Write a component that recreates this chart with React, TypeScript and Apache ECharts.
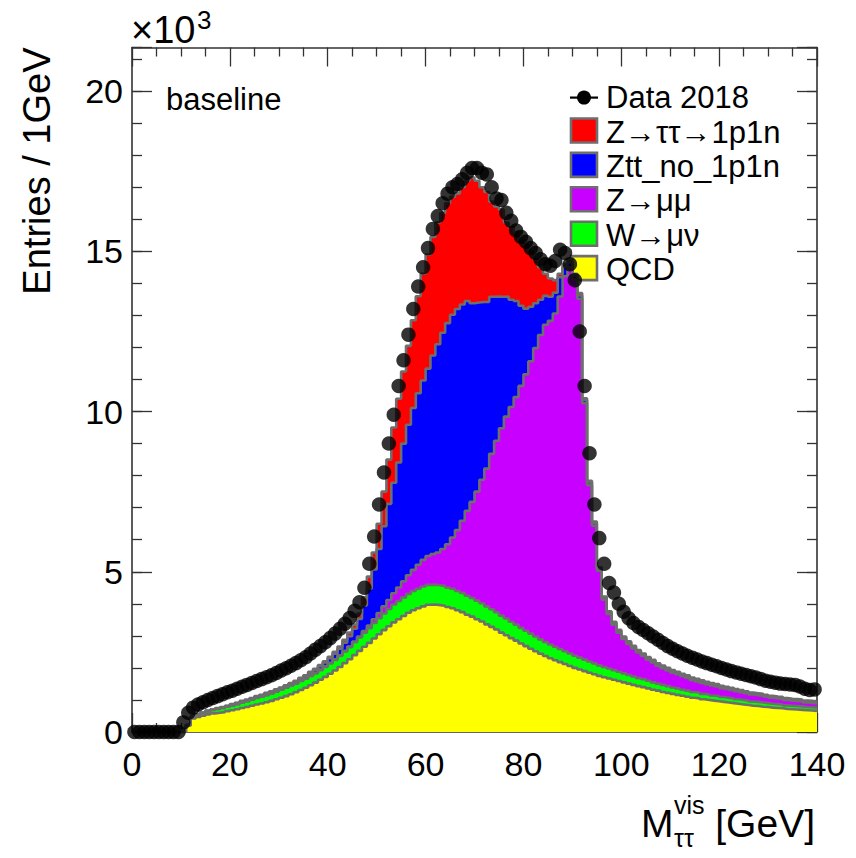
import React, { useEffect, useRef } from "react";
import * as echarts from "echarts";

// ---------------- data (entries in units of 10^3 per 1 GeV bin, bins 0..139) ----------------
const binLow = Array.from({ length: 140 }, (_, i) => i); // bin lower edges, GeV

const dataCounts = [
  0, 0, 0, 0, 0, 0, 0, 0, 0, 0,
  0.3, 0.6, 0.76, 0.86, 0.93, 1.0, 1.06, 1.12, 1.18, 1.24,
  1.29, 1.35, 1.41, 1.47, 1.53, 1.59, 1.65, 1.71, 1.77, 1.84,
  1.92, 1.99, 2.07, 2.15, 2.24, 2.33, 2.45, 2.57, 2.68, 2.8,
  2.93, 3.07, 3.22, 3.38, 3.56, 3.78, 4.05, 4.5, 5.25, 6.1,
  7.1, 8.1, 9.0, 9.9, 10.8, 11.6, 12.4, 13.2, 13.9, 14.5,
  15.1, 15.7, 16.1, 16.5, 16.8, 17.0, 17.1, 17.25, 17.45, 17.6,
  17.6, 17.45, 17.4, 17.0, 16.65, 16.6, 16.2, 15.95, 15.65, 15.45,
  15.3, 15.1, 14.95, 14.75, 14.6, 14.55, 14.7, 15.05, 14.95, 14.6,
  14.1, 12.5, 10.8, 8.7, 7.1, 6.05, 5.25, 4.65, 4.35, 4.0,
  3.75, 3.55, 3.4, 3.28, 3.18, 3.08, 2.98, 2.88, 2.78, 2.68,
  2.6, 2.52, 2.45, 2.38, 2.32, 2.26, 2.2, 2.15, 2.1, 2.05,
  2.0, 1.95, 1.9, 1.86, 1.82, 1.78, 1.74, 1.7, 1.65, 1.6,
  1.57, 1.54, 1.51, 1.5, 1.48, 1.47, 1.42, 1.35, 1.31, 1.33,
];

const qcd = [
  0, 0, 0, 0, 0, 0, 0, 0, 0, 0,
  0, 0.2, 0.42, 0.47, 0.51, 0.55, 0.58, 0.6, 0.62, 0.65,
  0.68, 0.71, 0.75, 0.78, 0.82, 0.86, 0.89, 0.93, 0.97, 1.02,
  1.07, 1.12, 1.18, 1.24, 1.31, 1.38, 1.46, 1.54, 1.63, 1.72,
  1.82, 1.92, 2.03, 2.15, 2.27, 2.4, 2.53, 2.66, 2.78, 2.92,
  3.05, 3.18, 3.3, 3.42, 3.52, 3.62, 3.72, 3.8, 3.86, 3.92,
  3.97, 3.98, 3.96, 3.94, 3.9, 3.86, 3.8, 3.74, 3.66, 3.6,
  3.52, 3.45, 3.36, 3.28, 3.2, 3.1, 3.02, 2.93, 2.85, 2.76,
  2.68, 2.6, 2.52, 2.44, 2.37, 2.3, 2.24, 2.18, 2.12, 2.06,
  2.0, 1.95, 1.9, 1.85, 1.8, 1.75, 1.71, 1.67, 1.63, 1.59,
  1.55, 1.51, 1.47, 1.43, 1.4, 1.36, 1.32, 1.29, 1.25, 1.22,
  1.19, 1.16, 1.13, 1.1, 1.07, 1.05, 1.02, 1.0, 0.98, 0.96,
  0.94, 0.92, 0.9, 0.88, 0.86, 0.84, 0.82, 0.81, 0.79, 0.78,
  0.76, 0.75, 0.74, 0.72, 0.71, 0.7, 0.69, 0.68, 0.67, 0.66,
];

const wmunu = [
  0, 0, 0, 0, 0, 0, 0, 0, 0, 0,
  0, 0.02, 0.06, 0.08, 0.09, 0.1, 0.11, 0.12, 0.13, 0.14,
  0.15, 0.16, 0.17, 0.18, 0.19, 0.2, 0.21, 0.22, 0.23, 0.24,
  0.25, 0.26, 0.27, 0.27, 0.28, 0.28, 0.29, 0.29, 0.3, 0.31,
  0.32, 0.33, 0.34, 0.36, 0.38, 0.4, 0.42, 0.44, 0.46, 0.48,
  0.5, 0.52, 0.54, 0.56, 0.57, 0.58, 0.59, 0.6, 0.61, 0.62,
  0.62, 0.62, 0.62, 0.62, 0.61, 0.61, 0.6, 0.6, 0.59, 0.58,
  0.58, 0.57, 0.56, 0.55, 0.54, 0.53, 0.52, 0.51, 0.5, 0.49,
  0.48, 0.47, 0.46, 0.45, 0.44, 0.43, 0.42, 0.41, 0.4, 0.39,
  0.38, 0.37, 0.36, 0.35, 0.34, 0.33, 0.32, 0.31, 0.3, 0.29,
  0.28, 0.27, 0.26, 0.25, 0.25, 0.24, 0.23, 0.22, 0.22, 0.21,
  0.2, 0.2, 0.19, 0.19, 0.18, 0.18, 0.17, 0.17, 0.16, 0.16,
  0.15, 0.15, 0.15, 0.14, 0.14, 0.14, 0.13, 0.13, 0.13, 0.12,
  0.12, 0.12, 0.12, 0.11, 0.11, 0.11, 0.11, 0.1, 0.1, 0.1,
];

const zmumu = [
  0, 0, 0, 0, 0, 0, 0, 0, 0, 0,
  0, 0, 0, 0, 0, 0, 0, 0, 0, 0,
  0, 0, 0, 0, 0, 0.01, 0.01, 0.01, 0.01, 0.01,
  0.01, 0.01, 0.01, 0.01, 0.01, 0.01, 0.02, 0.02, 0.02, 0.02,
  0.02, 0.02, 0.02, 0.02, 0.02, 0.02, 0.03, 0.05, 0.08, 0.12,
  0.16, 0.22, 0.28, 0.35, 0.42, 0.5, 0.58, 0.66, 0.75, 0.83,
  0.9, 0.95, 1.02, 1.15, 1.35, 1.6, 1.9, 2.25, 2.65, 3.0,
  3.4, 3.85, 4.3, 4.85, 5.35, 5.85, 6.3, 6.7, 7.1, 7.55,
  8.0, 8.5, 9.0, 9.5, 9.9, 10.1, 10.4, 11.0, 11.7, 12.05,
  11.75, 11.2, 8.0, 5.5, 4.3, 2.95, 2.1, 1.7, 1.42, 1.22,
  1.07, 0.97, 0.88, 0.8, 0.72, 0.66, 0.62, 0.55, 0.52, 0.49,
  0.46, 0.44, 0.42, 0.4, 0.37, 0.35, 0.34, 0.32, 0.31, 0.3,
  0.28, 0.27, 0.26, 0.25, 0.24, 0.23, 0.22, 0.21, 0.21, 0.2,
  0.19, 0.18, 0.18, 0.17, 0.16, 0.16, 0.15, 0.14, 0.14, 0.13,
];

const zttNo1p1n = [
  0, 0, 0, 0, 0, 0, 0, 0, 0, 0,
  0, 0, 0, 0, 0, 0.01, 0.01, 0.02, 0.02, 0.02,
  0.03, 0.03, 0.03, 0.03, 0.03, 0.03, 0.03, 0.04, 0.04, 0.04,
  0.04, 0.05, 0.05, 0.06, 0.06, 0.07, 0.08, 0.09, 0.1, 0.12,
  0.14, 0.17, 0.21, 0.26, 0.32, 0.4, 0.55, 0.8, 1.15, 1.55,
  2.0, 2.5, 3.0, 3.45, 3.9, 4.3, 4.7, 5.05, 5.35, 5.6,
  5.85, 6.2, 6.5, 6.75, 6.9, 6.95, 6.9, 6.75, 6.55, 6.2,
  5.9, 5.55, 5.2, 4.9, 4.5, 4.1, 3.75, 3.35, 3.0, 2.5,
  2.05, 1.7, 1.4, 1.1, 0.9, 0.75, 0.65, 0.6, 0.3, 0.15,
  0.12, 0.1, 0.1, 0.09, 0.08, 0.07, 0.07, 0.06, 0.06, 0.06,
  0.05, 0.05, 0.05, 0.05, 0.05, 0.05, 0.05, 0.05, 0.05, 0.05,
  0.05, 0.05, 0.05, 0.05, 0.05, 0.05, 0.05, 0.05, 0.05, 0.05,
  0.05, 0.05, 0.05, 0.05, 0.05, 0.04, 0.04, 0.04, 0.04, 0.04,
  0.04, 0.04, 0.04, 0.04, 0.04, 0.04, 0.04, 0.04, 0.04, 0.04,
];

const ztt1p1n = [
  0, 0, 0, 0, 0, 0, 0, 0, 0, 0,
  0, 0, 0, 0, 0, 0, 0, 0.01, 0.01, 0.01,
  0.01, 0.01, 0.02, 0.02, 0.02, 0.02, 0.02, 0.02, 0.02, 0.02,
  0.02, 0.02, 0.02, 0.02, 0.03, 0.03, 0.03, 0.03, 0.04, 0.04,
  0.05, 0.06, 0.07, 0.09, 0.11, 0.13, 0.17, 0.25, 0.38, 0.53,
  0.79, 1.08, 1.38, 1.72, 1.99, 2.25, 2.46, 2.74, 3.03, 3.33,
  3.56, 3.7, 3.8, 3.74, 3.74, 3.68, 3.6, 3.66, 3.75, 3.92,
  3.8, 3.58, 3.43, 2.97, 2.81, 2.72, 2.31, 2.26, 2.15, 2.05,
  1.99, 1.73, 1.37, 1.01, 0.69, 0.57, 0.39, 0.11, 0.08, 0.1,
  0.05, 0.08, 0.05, 0.05, 0.05, 0.04, 0.03, 0.03, 0.03, 0.03,
  0.03, 0.03, 0.03, 0.03, 0.03, 0.03, 0.03, 0.03, 0.03, 0.03,
  0.03, 0.03, 0.03, 0.03, 0.03, 0.03, 0.03, 0.03, 0.03, 0.03,
  0.02, 0.02, 0.02, 0.02, 0.02, 0.02, 0.02, 0.02, 0.02, 0.02,
  0.02, 0.02, 0.02, 0.02, 0.02, 0.02, 0.02, 0.02, 0.02, 0.02,
];

const xTickValues = [0, 20, 40, 60, 80, 100, 120, 140];
const yTickValues = [0, 5, 10, 15, 20];
const legendLabels = ["Data 2018", "Z→ττ→1p1n", "Ztt_no_1p1n", "Z→μμ", "W→μν", "QCD"];

// ---------------- styling ----------------
const FONT = '"Liberation Sans", Arial, Helvetica, sans-serif';
const FILLS = ["#ff0000", "#0000ff", "#c800ff", "#00ff00", "#ffff00"]; // red, blue, magenta, green, yellow
const OUTLINE = "#6e6e6e";
const AXIS_COLOR = "#333";
const X_MIN = 0;
const X_MAX = 140;
const Y_MAX = 21.36;

function stepData(vals: number[]) {
  const out: number[][] = binLow.map((x, i) => [x, vals[i]]);
  out.push([X_MAX, vals[vals.length - 1]]);
  return out;
}

export default function App() {
  const ref = useRef<HTMLDivElement>(null);

  useEffect(() => {
    if (!ref.current) return;
    const chart = echarts.init(ref.current, undefined, { renderer: "svg" });

    // cumulative stack levels (bottom -> top)
    const components = [qcd, wmunu, zmumu, zttNo1p1n, ztt1p1n];
    const cumul: number[][] = [];
    let run = binLow.map(() => 0);
    components.forEach((c) => {
      run = run.map((v, i) => v + c[i]);
      cumul.push(run.slice());
    });
    const stackNames = ["QCD", "W→μν", "Z→μμ", "Ztt_no_1p1n", "Z→ττ→1p1n"];
    const stackFills = ["#ffff00", "#00ff00", "#c800ff", "#0000ff", "#ff0000"];
    const stackSeries: any[] = [];
    // draw order: top of stack first, so lower levels overlay it
    for (let k = cumul.length - 1; k >= 0; k--) {
      stackSeries.push({
        type: "line",
        name: stackNames[k],
        data: stepData(cumul[k]),
        step: "end",
        symbol: "none",
        showSymbol: false,
        silent: true,
        lineStyle: { color: OUTLINE, width: 2.6 },
        itemStyle: { color: stackFills[k] },
        areaStyle: { color: stackFills[k], opacity: 1 },
        z: 2,
      });
    }

    const axisLine = { show: true, onZero: false, lineStyle: { color: AXIS_COLOR, width: 1.6 } };
    const tickLine = { color: AXIS_COLOR, width: 1.3 };

    const xBase = {
      type: "value",
      min: X_MIN,
      max: X_MAX,
      interval: 20,
      axisLine,
      splitLine: { show: false },
      axisTick: { show: true, inside: true, length: 19, lineStyle: tickLine },
      minorTick: { show: true, splitNumber: 4, length: 9, lineStyle: tickLine },
    };
    const yMajor = {
      type: "value",
      min: 0,
      max: Y_MAX,
      interval: 5,
      axisLine,
      splitLine: { show: false },
      axisTick: { show: true, inside: true, length: 20, lineStyle: tickLine },
    };
    const yMinor = {
      type: "value",
      min: 0,
      max: Y_MAX,
      interval: 1,
      axisLine: { show: false, onZero: false },
      splitLine: { show: false },
      axisLabel: { show: false },
      axisTick: { show: true, inside: true, length: 10, lineStyle: tickLine },
    };

    const legendTop = 97.6;
    const legendStep = 34.4;
    const graphic: any[] = [];
    // Data legend entry
    graphic.push({
      type: "line",
      shape: { x1: 570, y1: legendTop, x2: 598, y2: legendTop },
      style: { stroke: "#000", lineWidth: 2.2 },
    });
    graphic.push({ type: "circle", shape: { cx: 584, cy: legendTop, r: 7 }, style: { fill: "#000" } });
    legendLabels.forEach((lab, k) => {
      const cy = legendTop + legendStep * k;
      if (k > 0) {
        graphic.push({
          type: "rect",
          shape: { x: 571, y: cy - 13.5, width: 26, height: 24 },
          style: { fill: FILLS[k - 1], stroke: OUTLINE, lineWidth: 2.6 },
        });
      }
      graphic.push({
        type: "text",
        x: 606,
        y: cy,
        style: { text: lab, fontSize: 31, fontFamily: FONT, fill: "#000", align: "left", verticalAlign: "middle" },
      });
    });
    // "baseline"
    graphic.push({
      type: "text",
      x: 166,
      y: 99.3,
      style: { text: "baseline", fontSize: 31, fontFamily: FONT, fill: "#000", align: "left", verticalAlign: "middle" },
    });
    // x10^3
    graphic.push({
      type: "text",
      x: 131,
      y: 30,
      style: { text: "×10", fontSize: 38, fontFamily: FONT, fill: "#000", align: "left", verticalAlign: "middle" },
    });
    graphic.push({
      type: "text",
      x: 197,
      y: 20,
      style: { text: "3", fontSize: 26, fontFamily: FONT, fill: "#000", align: "left", verticalAlign: "middle" },
    });
    // y title
    graphic.push({
      type: "text",
      x: 37,
      y: 47.5,
      rotation: Math.PI / 2,
      style: { text: "Entries / 1GeV", fontSize: 38, fontFamily: FONT, fill: "#000", align: "right", verticalAlign: "middle" },
    });
    // x title  M^{vis}_{ττ} [GeV]
    graphic.push({
      type: "text",
      x: 641,
      y: 823.5,
      style: { text: "M", fontSize: 39, fontFamily: FONT, fill: "#000", align: "left", verticalAlign: "middle" },
    });
    graphic.push({
      type: "text",
      x: 674,
      y: 805,
      style: { text: "vis", fontSize: 25, fontFamily: FONT, fill: "#000", align: "left", verticalAlign: "middle" },
    });
    graphic.push({
      type: "text",
      x: 674,
      y: 837.5,
      style: { text: "ττ", fontSize: 25, fontFamily: FONT, fill: "#000", align: "left", verticalAlign: "middle" },
    });
    graphic.push({
      type: "text",
      x: 815,
      y: 823.5,
      style: { text: "[GeV]", fontSize: 39, fontFamily: FONT, fill: "#000", align: "right", verticalAlign: "middle" },
    });

    chart.setOption({
      animation: false,
      backgroundColor: "#fff",
      textStyle: { fontFamily: FONT },
      grid: { left: 132, top: 47.5, right: 39, bottom: 126, containLabel: false },
      xAxis: [
        {
          ...xBase,
          position: "bottom",
          axisLabel: {
            show: true,
            fontSize: 34,
            fontFamily: FONT,
            color: "#000",
            margin: 15,
            formatter: (v: number) => (xTickValues.includes(v) ? String(v) : ""),
          },
        },
        { ...xBase, position: "top", axisLabel: { show: false } },
      ],
      yAxis: [
        {
          ...yMajor,
          position: "left",
          axisLabel: {
            show: true,
            fontSize: 34,
            fontFamily: FONT,
            color: "#000",
            margin: 9,
            formatter: (v: number) => (yTickValues.includes(v) ? String(v) : ""),
          },
        },
        { ...yMinor, position: "left" },
        { ...yMajor, position: "right", axisLabel: { show: false } },
        { ...yMinor, position: "right" },
      ],
      series: [
        ...stackSeries,
        {
          type: "scatter",
          name: "Data 2018",
          data: dataCounts.map((v, i) => [binLow[i] + 0.5, v]),
          symbol: "circle",
          symbolSize: 14.5,
          itemStyle: { color: "#000" },
          silent: true,
          z: 5,
        },
      ],
      graphic,
    });

    return () => chart.dispose();
  }, []);

  return (
    <div
      ref={ref}
      style={{ position: "fixed", left: 0, top: 0, width: 856, height: 858, background: "#fff" }}
    />
  );
}
